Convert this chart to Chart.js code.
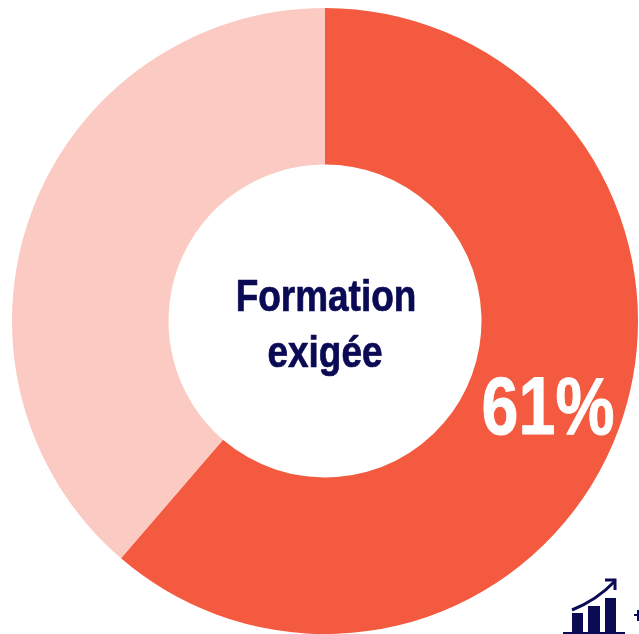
<!DOCTYPE html>
<html>
<head>
<meta charset="utf-8">
<title>Formation exigée</title>
<script src="https://cdn.jsdelivr.net/npm/chart.js@4"></script>
<style>
  html, body { margin: 0; padding: 0; background: #fff; overflow: hidden; }
  canvas { display: block; }
</style>
</head>
<body>
<canvas id="myChart" width="639" height="634"></canvas>
<script>
const categories = ['Formation exigée', 'Autres'];
const values = [61.3, 38.7];
const colors = ['#F35A3F', '#FACAC3'];
const centerLines = ['Formation', 'exigée'];
const valueLabel = Math.round(values[0]) + '%';
const navy = '#0A0A55';

// draws one line of narrowed text, x being its centre
function narrowText(ctx, text, x, y, size, scaleX, color, weight) {
    ctx.save();
    ctx.translate(x, y);
    ctx.scale(scaleX, 1);
    ctx.font = 'bold ' + size + 'px "Liberation Sans"';
    ctx.fillStyle = color;
    ctx.strokeStyle = color;
    ctx.lineWidth = weight;
    ctx.lineJoin = 'round';
    ctx.textAlign = 'center';
    ctx.textBaseline = 'alphabetic';
    ctx.fillText(text, 0, 0);
    ctx.strokeText(text, 0, 0); // the reference glyphs are a bit heavier
    ctx.restore();
}

const labelsPlugin = {
    id: 'labelsPlugin',
    afterDraw(chart) {
        const ctx = chart.ctx;
        narrowText(ctx, centerLines[0], 326, 311, 44, 0.84, navy, 0.7);
        narrowText(ctx, centerLines[1], 325, 367, 44, 0.84, navy, 0.7);
        narrowText(ctx, valueLabel, 548, 434, 82, 0.81, '#fff', 1);

        // small growth icon in the bottom right corner
        ctx.save();
        ctx.fillStyle = navy;
        ctx.strokeStyle = navy;
        ctx.fillRect(572, 613, 11, 19);
        ctx.fillRect(588, 606, 12, 26);
        ctx.fillRect(605, 598, 11, 34);
        ctx.fillRect(563, 632, 62, 2);
        ctx.lineWidth = 3;
        ctx.beginPath();
        ctx.moveTo(572, 610);
        ctx.quadraticCurveTo(597, 600, 615, 581);
        ctx.stroke();
        ctx.beginPath();
        ctx.moveTo(605, 580);
        ctx.lineTo(615, 580);
        ctx.lineTo(615, 590);
        ctx.stroke();
        ctx.fillRect(634, 614, 5, 2);
        ctx.fillRect(637, 610, 2, 11);
        ctx.restore();
    }
};

const ctx = document.getElementById('myChart').getContext('2d');
const myChart = new Chart(ctx, {
    type: 'doughnut',
    data: {
        labels: categories,
        datasets: [{
            data: values,
            backgroundColor: colors,
            borderWidth: 0
        }]
    },
    options: {
        responsive: false,
        animation: false,
        cutout: '50%',
        layout: { padding: { left: 12, right: 1, top: 8, bottom: 0 } },
        plugins: {
            legend: { display: false },
            tooltip: { enabled: false }
        }
    },
    plugins: [labelsPlugin]
});
</script>
</body>
</html>
